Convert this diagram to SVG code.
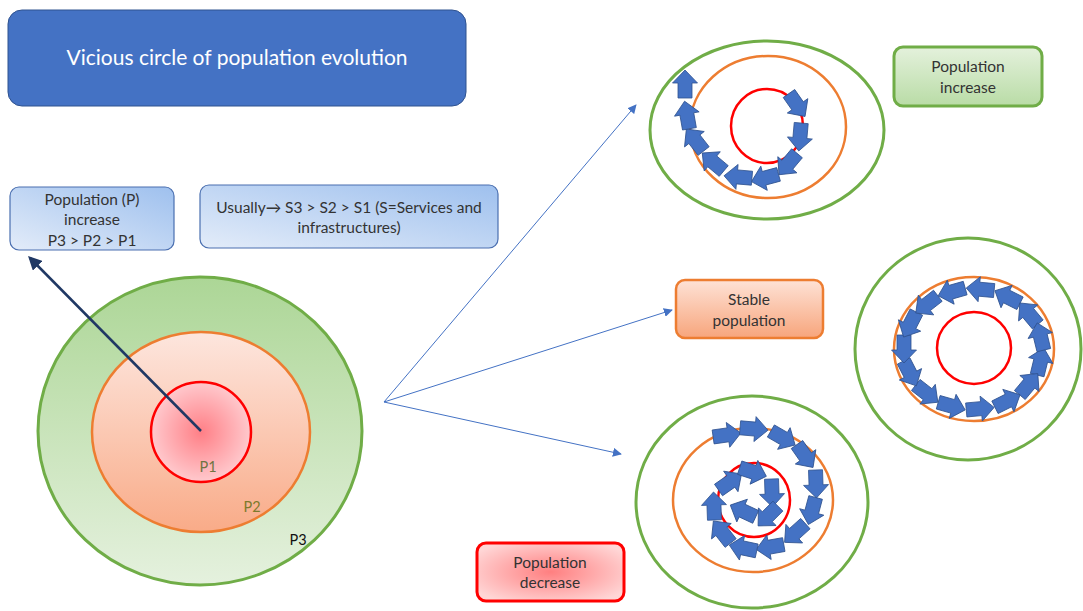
<svg xmlns="http://www.w3.org/2000/svg" xmlns:xlink="http://www.w3.org/1999/xlink" width="1083" height="611" viewBox="0 0 1083 611">
  <style>
    .t { font-family: Lato, "Open Sans", "Liberation Sans", sans-serif; fill: #333333; }
    .title { font-size: 21px; fill: #ffffff; }
    .lbl { font-size: 15.5px; }
    .ring-g { fill: none; stroke: #70AD47; stroke-width: 3; }
    .ring-o { fill: none; stroke: #ED7D31; stroke-width: 2.5; }
    .ring-r { fill: none; stroke: #FF0000; stroke-width: 2.5; }
    .flow { stroke: #4472C4; stroke-width: 1; fill: none; marker-end: url(#tipBlue); }
    .blk { fill: #4472C4; stroke: #2F528F; stroke-width: 0.8; }
  </style>
  <defs>
    <linearGradient id="gBlue" x1="0" y1="1" x2="1" y2="0">
      <stop offset="0" stop-color="#e3ecf9"/>
      <stop offset="1" stop-color="#9ec0ee"/>
    </linearGradient>
    <linearGradient id="gGreenBig" x1="0" y1="0" x2="0" y2="1">
      <stop offset="0" stop-color="#acd696"/>
      <stop offset="1" stop-color="#e5f1de"/>
    </linearGradient>
    <linearGradient id="gOrangeBig" x1="0" y1="0" x2="0" y2="1">
      <stop offset="0" stop-color="#fde6de"/>
      <stop offset="1" stop-color="#f9ab88"/>
    </linearGradient>
    <radialGradient id="gRedCore" cx="0.5" cy="0.5" r="0.5">
      <stop offset="0" stop-color="#ff7f86"/>
      <stop offset="1" stop-color="#ffc9cd"/>
    </radialGradient>
    <linearGradient id="gGreenBox" x1="0" y1="0" x2="0" y2="1">
      <stop offset="0" stop-color="#e4f1dc"/>
      <stop offset="1" stop-color="#b9dca6"/>
    </linearGradient>
    <linearGradient id="gOrangeBox" x1="0" y1="0" x2="0" y2="1">
      <stop offset="0" stop-color="#fee2d6"/>
      <stop offset="1" stop-color="#f7a57c"/>
    </linearGradient>
    <radialGradient id="gRedBox" cx="0.5" cy="0.5" r="0.6">
      <stop offset="0" stop-color="#ff7f80"/>
      <stop offset="1" stop-color="#ffd6d6"/>
    </radialGradient>
    <marker id="tipBlue" viewBox="0 0 10 10" refX="9" refY="5" markerWidth="9" markerHeight="9" markerUnits="userSpaceOnUse" orient="auto">
      <path d="M0,0 L10,5 L0,10 Z" fill="#4472C4"/>
    </marker>
    <marker id="tipNavy" viewBox="0 0 10 10" refX="8" refY="5" markerWidth="5.5" markerHeight="5.5" orient="auto">
      <path d="M0,0 L10,5 L0,10 Z" fill="#203864"/>
    </marker>
    <!-- block arrow pointing right, centred on the origin -->
    <path id="ba" class="blk" d="M-14,-7 L1,-7 L1,-12.5 L14,0 L1,12.5 L1,7 L-14,7 Z"/>
  </defs>

  <rect width="1083" height="611" fill="#ffffff"/>

  <!-- heading -->
  <g id="title">
    <rect x="8" y="10" width="458" height="96" rx="14" fill="#4472C4" stroke="#2F528F" stroke-width="1"/>
    <text class="t title" x="237" y="65" text-anchor="middle">Vicious circle of population evolution</text>
  </g>

  <!-- explanatory boxes -->
  <g id="box-p">
    <rect x="10" y="187" width="164" height="63" rx="9" fill="url(#gBlue)" stroke="#4a6fb0" stroke-width="1.2"/>
    <text class="t lbl" x="92" y="205" text-anchor="middle">Population (P)</text>
    <text class="t lbl" x="92" y="225" text-anchor="middle">increase</text>
    <text class="t lbl" x="92" y="246" text-anchor="middle">P3 &gt; P2 &gt; P1</text>
  </g>
  <g id="box-s">
    <rect x="200" y="185" width="298" height="63" rx="9" fill="url(#gBlue)" stroke="#4a6fb0" stroke-width="1.2"/>
    <text class="t lbl" x="349" y="213" text-anchor="middle">Usually→ S3 &gt; S2 &gt; S1 (S=Services and</text>
    <text class="t lbl" x="349" y="233" text-anchor="middle">infrastructures)</text>
  </g>

  <!-- nested population rings -->
  <g id="rings-main">
    <ellipse cx="200" cy="431" rx="162" ry="154" fill="url(#gGreenBig)" stroke="#70AD47" stroke-width="3"/>
    <ellipse cx="201" cy="432" rx="109" ry="100" fill="url(#gOrangeBig)" stroke="#ED7D31" stroke-width="2.5"/>
    <ellipse cx="201" cy="432" rx="50" ry="50" fill="url(#gRedCore)" stroke="#FF0000" stroke-width="2.5"/>
    <text class="t" x="208" y="472" font-size="14.5" text-anchor="middle" style="fill:#6f7442">P1</text>
    <text class="t" x="252" y="512" font-size="14.5" text-anchor="middle" style="fill:#7d7a2c">P2</text>
    <text class="t" x="298" y="545" font-size="14.5" text-anchor="middle" style="fill:#111111">P3</text>
  </g>

  <!-- outcome labels -->
  <g id="box-increase">
    <rect x="894" y="47" width="148" height="59" rx="9" fill="url(#gGreenBox)" stroke="#70AD47" stroke-width="3"/>
    <text class="t lbl" x="968" y="72" text-anchor="middle">Population</text>
    <text class="t lbl" x="968" y="93" text-anchor="middle">increase</text>
  </g>
  <g id="box-stable">
    <rect x="676" y="280" width="147" height="58" rx="9" fill="url(#gOrangeBox)" stroke="#ED7D31" stroke-width="2.5"/>
    <text class="t lbl" x="749" y="305" text-anchor="middle">Stable</text>
    <text class="t lbl" x="749" y="326" text-anchor="middle">population</text>
  </g>
  <g id="box-decrease">
    <rect x="477" y="543" width="147" height="58" rx="9" fill="url(#gRedBox)" stroke="#FF0000" stroke-width="3"/>
    <text class="t lbl" x="550" y="568" text-anchor="middle">Population</text>
    <text class="t lbl" x="550" y="588" text-anchor="middle">decrease</text>
  </g>

  <!-- growth: arrows spiral outward -->
  <g id="rings-increase">
    <ellipse class="ring-g" cx="767" cy="130" rx="117" ry="89"/>
    <ellipse class="ring-o" cx="768" cy="127" rx="78" ry="71"/>
    <ellipse class="ring-r" cx="767" cy="126" rx="36" ry="37"/>
    <use xlink:href="#ba" transform="translate(797,105) rotate(55)"/>
    <use xlink:href="#ba" transform="translate(800,137) rotate(95)"/>
    <use xlink:href="#ba" transform="translate(788,164) rotate(130)"/>
    <use xlink:href="#ba" transform="translate(765,178) rotate(165)"/>
    <use xlink:href="#ba" transform="translate(738,177) rotate(185)"/>
    <use xlink:href="#ba" transform="translate(713,162) rotate(220)"/>
    <use xlink:href="#ba" transform="translate(695,140) rotate(232)"/>
    <use xlink:href="#ba" transform="translate(687,115) rotate(260)"/>
    <use xlink:href="#ba" transform="translate(685,84) rotate(270)"/>
  </g>

  <!-- stability: arrows circle the middle ring -->
  <g id="rings-stable">
    <ellipse class="ring-g" cx="968" cy="349" rx="113" ry="111"/>
    <ellipse class="ring-o" cx="974" cy="349" rx="80" ry="72"/>
    <ellipse class="ring-r" cx="974" cy="348" rx="37" ry="36"/>
    <use xlink:href="#ba" transform="translate(1040.5,361.5) rotate(-76.3)"/>
    <use xlink:href="#ba" transform="translate(1028.8,384.3) rotate(-50.1)"/>
    <use xlink:href="#ba" transform="translate(1007.5,401) rotate(-26.6)"/>
    <use xlink:href="#ba" transform="translate(980.2,408.7) rotate(-5.2)"/>
    <use xlink:href="#ba" transform="translate(951.7,406.1) rotate(15.8)"/>
    <use xlink:href="#ba" transform="translate(926.8,393.6) rotate(38)"/>
    <use xlink:href="#ba" transform="translate(910,373.4) rotate(62.9)"/>
    <use xlink:href="#ba" transform="translate(904,349) rotate(90)"/>
    <use xlink:href="#ba" transform="translate(910,324.6) rotate(117.1)"/>
    <use xlink:href="#ba" transform="translate(926.8,304.4) rotate(142)"/>
    <use xlink:href="#ba" transform="translate(951.7,291.9) rotate(164.2)"/>
    <use xlink:href="#ba" transform="translate(980.2,289.3) rotate(185.2)"/>
    <use xlink:href="#ba" transform="translate(1007.5,297) rotate(206.6)"/>
    <use xlink:href="#ba" transform="translate(1028.8,313.7) rotate(230.1)"/>
    <use xlink:href="#ba" transform="translate(1040.5,336.5) rotate(256.3)"/>
  </g>

  <!-- decline: arrows spiral inward -->
  <g id="rings-decrease">
    <ellipse class="ring-g" cx="752" cy="502" rx="116" ry="106"/>
    <ellipse class="ring-o" cx="753" cy="500" rx="80" ry="72"/>
    <ellipse class="ring-r" cx="754" cy="500" rx="36" ry="37"/>
    <use xlink:href="#ba" transform="translate(727,435) rotate(-8)"/>
    <use xlink:href="#ba" transform="translate(754,429) rotate(5)"/>
    <use xlink:href="#ba" transform="translate(783,438) rotate(30)"/>
    <use xlink:href="#ba" transform="translate(805,456) rotate(55)"/>
    <use xlink:href="#ba" transform="translate(816,484) rotate(88)"/>
    <use xlink:href="#ba" transform="translate(812,511) rotate(105)"/>
    <use xlink:href="#ba" transform="translate(795,533) rotate(138)"/>
    <use xlink:href="#ba" transform="translate(770,547) rotate(170)"/>
    <use xlink:href="#ba" transform="translate(743,548) rotate(192)"/>
    <use xlink:href="#ba" transform="translate(722,532) rotate(232)"/>
    <use xlink:href="#ba" transform="translate(714,506) rotate(268)"/>
    <use xlink:href="#ba" transform="translate(730,482) rotate(-35)"/>
    <use xlink:href="#ba" transform="translate(753,472) rotate(18)"/>
    <use xlink:href="#ba" transform="translate(772,493) rotate(88)"/>
    <use xlink:href="#ba" transform="translate(768,516) rotate(135)"/>
    <use xlink:href="#ba" transform="translate(743,511) rotate(205)"/>
  </g>

  <!-- connectors -->
  <g id="connectors">
    <line x1="201" y1="431" x2="30" y2="258" stroke="#203864" stroke-width="2.5" marker-end="url(#tipNavy)"/>
    <line class="flow" x1="384" y1="402" x2="636" y2="105"/>
    <line class="flow" x1="384" y1="402" x2="672" y2="310"/>
    <line class="flow" x1="384" y1="402" x2="621" y2="454"/>
  </g>
</svg>
